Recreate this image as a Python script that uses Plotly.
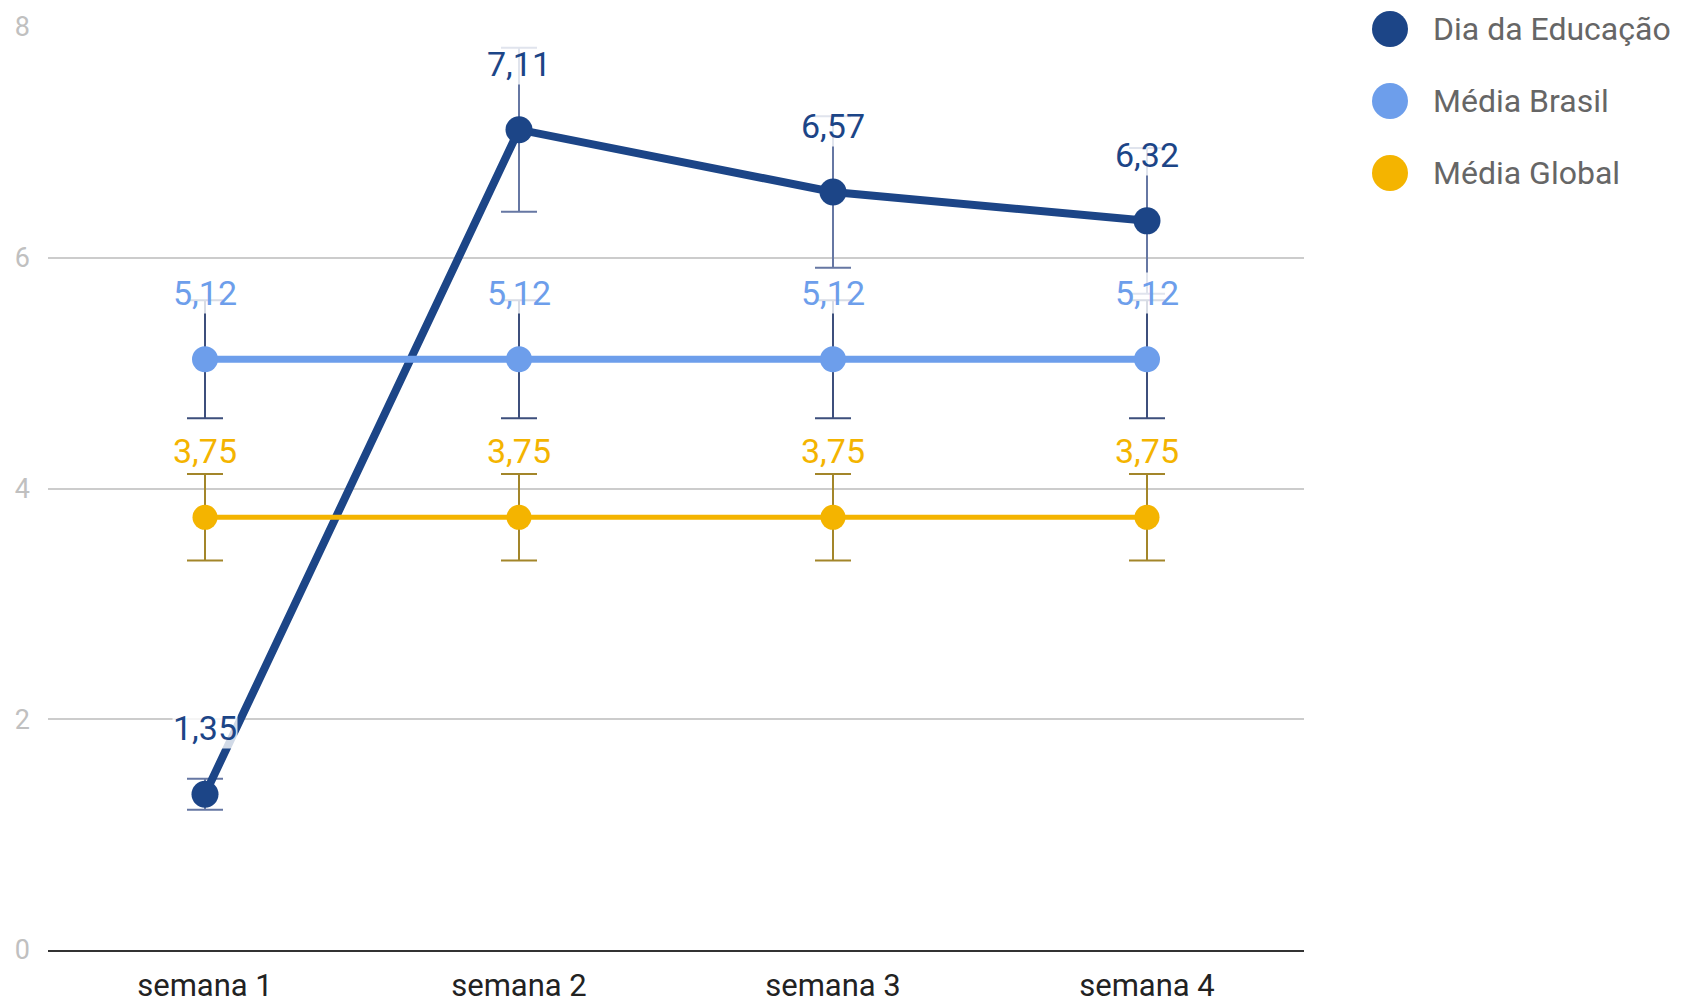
import plotly.graph_objects as go

categories = ["semana 1", "semana 2", "semana 3", "semana 4"]
series_names = ["Dia da Educação", "Média Brasil", "Média Global"]
dia_educacao = [1.35, 7.11, 6.57, 6.32]
media_brasil = [5.12, 5.12, 5.12, 5.12]
media_global = [3.75, 3.75, 3.75, 3.75]
error_percent = 10
y_ticks = [0, 2, 4, 6, 8]

series_values = [dia_educacao, media_brasil, media_global]
colors = ["#1c4587", "#6d9eeb", "#f4b400"]
err_colors = ["#6677a3", "#3d4f7c", "#a3862a"]
line_widths = [8, 7, 5]
marker_sizes = [27, 26, 25]

FONT = "Roboto"

fig = go.Figure()
for name, vals, c, ec, lw, ms in zip(series_names, series_values, colors, err_colors, line_widths, marker_sizes):
    fig.add_trace(go.Scatter(
        x=categories, y=vals, name=name, mode="lines+markers",
        line=dict(color=c, width=lw),
        marker=dict(color=c, size=ms),
        error_y=dict(type="percent", value=error_percent, color=ec, thickness=2, width=18),
        showlegend=False,
    ))

annotations = []
for vals, c in zip(series_values, colors):
    for cat, v in zip(categories, vals):
        annotations.append(dict(
            x=cat, y=v, xref="x", yref="y", text=f"{v:.2f}".replace(".", ","),
            showarrow=False, yshift=66, yanchor="middle",
            bgcolor="rgba(255,255,255,0.8)", borderpad=0,
            font=dict(family=FONT, size=34, color=c),
        ))

# custom legend
x0_px, x1_px, top_px, bot_px = 48, 1304, 27, 950
def px_to_paper_x(px):
    return (px - x0_px) / (x1_px - x0_px)
def px_to_paper_y(py):
    return (bot_px - py) / (bot_px - top_px)

shapes = []
leg_y = [29, 101, 173]
for name, c, ly in zip(series_names, colors, leg_y):
    shapes.append(dict(
        type="circle", xref="paper", yref="paper", xsizemode="pixel", ysizemode="pixel",
        xanchor=px_to_paper_x(1390), yanchor=px_to_paper_y(ly),
        x0=-18, x1=18, y0=-18, y1=18, fillcolor=c, line=dict(width=0),
    ))
    annotations.append(dict(
        x=px_to_paper_x(1431), y=px_to_paper_y(ly), xref="paper", yref="paper",
        text=name, showarrow=False, xanchor="left", yanchor="middle",
        font=dict(family=FONT, size=32, color="#666666"),
    ))

fig.update_layout(
    width=1683, height=1008,
    margin=dict(l=x0_px, r=1683 - x1_px, t=top_px, b=1008 - bot_px, autoexpand=False),
    paper_bgcolor="white", plot_bgcolor="white",
    font=dict(family=FONT),
    annotations=annotations, shapes=shapes,
    showlegend=False,
    xaxis=dict(
        range=[-0.5, 3.5], showgrid=False, showline=True, linecolor="#333333", linewidth=2,
        tickfont=dict(family=FONT, size=31, color="#222222"), ticks="", ticklabelstandoff=7,
        automargin=False,
    ),
    yaxis=dict(
        range=[0, 8], tickvals=y_ticks, showgrid=True, gridcolor="#cccccc", gridwidth=2,
        zeroline=False, tickfont=dict(family=FONT, size=27, color="#c0c0c0"),
        ticks="", ticklabelstandoff=17, automargin=False,
    ),
)

fig.write_html("out.html", config={"displayModeBar": False},
               post_script="document.body.style.margin='0';document.body.style.overflow='hidden';")
